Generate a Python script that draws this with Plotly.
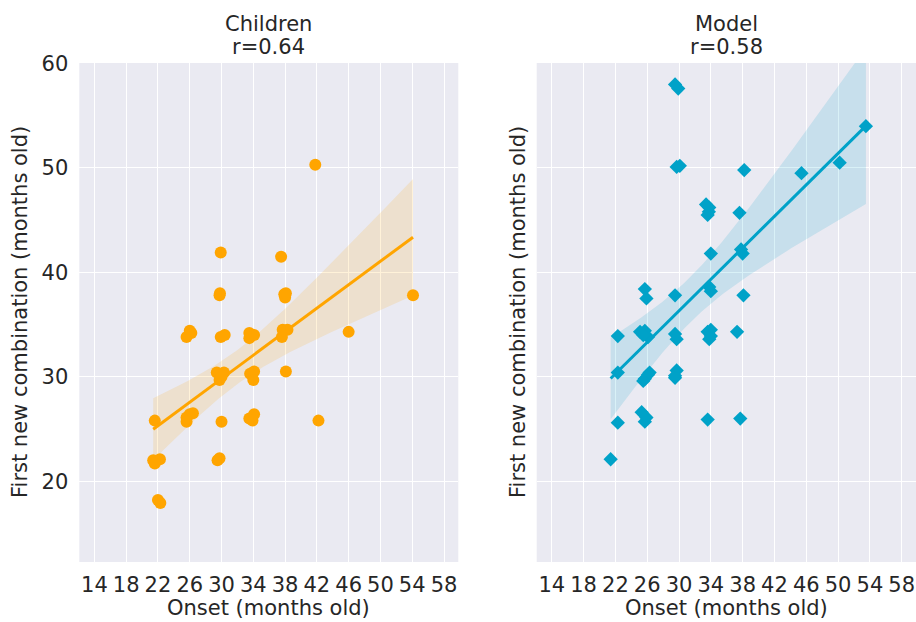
import numpy as np
import plotly.graph_objects as go

# ---------------- data ----------------
children_onset = [41.8, 29.9, 37.5, 29.75, 29.8, 38.0, 37.9, 38.1, 54.1, 26.0,
                  25.6, 26.2, 29.9, 30.4, 33.5, 33.5, 34.1, 37.7, 38.3, 37.6,
                  46.0, 29.4, 30.3, 29.75, 30.0, 33.6, 34.1, 34.0, 38.1, 21.6,
                  25.6, 26.0, 26.4, 25.6, 30.0, 33.5, 34.1, 33.9, 42.2, 21.4,
                  22.25, 21.6, 29.75, 29.5, 22.0, 22.3]
children_first = [50.3, 41.9, 41.5, 37.8, 38.0, 37.6, 37.9, 38.0, 37.8, 34.4,
                  33.8, 34.2, 33.8, 34.0, 34.2, 33.7, 34.0, 34.5, 34.5, 33.8,
                  34.3, 30.4, 30.4, 29.7, 30.0, 30.3, 30.5, 29.7, 30.5, 25.8,
                  26.1, 26.4, 26.5, 25.7, 25.7, 26.0, 26.4, 25.8, 25.8, 22.0,
                  22.1, 21.7, 22.2, 22.0, 18.2, 17.9]

model_onset = [29.5, 29.9, 29.7, 30.1, 38.2, 45.4, 50.2, 53.5, 33.4, 33.8,
               33.6, 33.75, 37.6, 34.0, 37.8, 38.0, 25.7, 25.9, 29.5, 33.8,
               34.0, 38.1, 22.3, 25.1, 25.7, 26.1, 25.5, 29.5, 29.7, 33.6,
               34.0, 33.8, 34.0, 37.3, 22.3, 25.5, 26.1, 25.7, 26.3, 29.5,
               29.7, 29.5, 22.3, 25.3, 25.9, 25.7, 33.6, 37.7, 21.4]
model_first = [58.0, 57.6, 50.1, 50.2, 49.8, 49.5, 50.5, 54.0, 46.5, 46.2,
               45.5, 45.8, 45.7, 41.8, 42.2, 41.8, 38.4, 37.5, 37.8, 38.6,
               38.2, 37.8, 33.9, 34.3, 34.4, 33.8, 34.0, 34.1, 33.6, 34.3,
               34.5, 33.6, 33.9, 34.3, 30.4, 29.6, 30.2, 29.8, 30.4, 30.1,
               30.6, 29.9, 25.6, 26.6, 26.1, 25.7, 25.9, 26.0, 22.1]

panel_titles = ["Children", "Model"]
panel_r = ["r=0.64", "r=0.58"]
x_ticks = list(range(14, 59, 4))
y_ticks = [20, 30, 40, 50, 60]
x_label = "Onset (months old)"
y_label = "First new combination (months old)"

# ---------------- styling ----------------
ORANGE = "#FFA500"
BLUE = "#00A2C8"
BG = "#EAEAF2"
TXT = "#262626"
FONT = "DejaVu Sans"
FS = 21
W, H = 916, 622


def px_x(p):
    return p / W


def px_y(p):
    return 1 - p / H


def fit_ci(x, y, n=100):
    x = np.asarray(x, float)
    y = np.asarray(y, float)
    b, a = np.polyfit(x, y, 1)
    grid = np.linspace(x.min(), x.max(), n)
    pred = a + b * grid
    resid = y - (a + b * x)
    dof = len(x) - 2
    s = np.sqrt(np.sum(resid ** 2) / dof)
    sxx = np.sum((x - x.mean()) ** 2)
    se = s * np.sqrt(1 / len(x) + (grid - x.mean()) ** 2 / sxx)
    t = 2.014
    return grid, pred, pred - t * se, pred + t * se


def rgba(hexc, a):
    h = hexc.lstrip("#")
    r, g, b = int(h[0:2], 16), int(h[2:4], 16), int(h[4:6], 16)
    return f"rgba({r},{g},{b},{a})"


fig = go.Figure()

panels = [
    (children_onset, children_first, ORANGE, "circle", 12, "x", "y"),
    (model_onset, model_first, BLUE, "diamond", 11, "x2", "y2"),
]
for xs, ys, col, sym, size, xa, ya in panels:
    g, p, lo, hi = fit_ci(xs, ys)
    fig.add_trace(go.Scatter(
        x=np.concatenate([g, g[::-1]]), y=np.concatenate([hi, lo[::-1]]),
        fill="toself", fillcolor=rgba(col, 0.15), line=dict(width=0),
        mode="lines", hoverinfo="skip", showlegend=False, xaxis=xa, yaxis=ya))
    fig.add_trace(go.Scatter(
        x=xs, y=ys, mode="markers",
        marker=dict(color=col, symbol=sym, size=size, line=dict(width=0)),
        showlegend=False, xaxis=xa, yaxis=ya))
    fig.add_trace(go.Scatter(
        x=g, y=p, mode="lines", line=dict(color=col, width=3),
        showlegend=False, xaxis=xa, yaxis=ya))

xr = [12.1, 59.8]
yr = [12.26, 60.05]
ydom = [px_y(562), px_y(63)]

axis_common = dict(
    showgrid=True, gridcolor="white", gridwidth=1.3, zeroline=False,
    showline=False, ticks="", automargin=False,
    tickfont=dict(family=FONT, size=FS, color=TXT),
)
fig.update_layout(
    width=W, height=H, margin=dict(l=0, r=0, t=0, b=0, autoexpand=False),
    paper_bgcolor="white", plot_bgcolor=BG, showlegend=False,
    font=dict(family=FONT, size=FS, color=TXT),
    xaxis=dict(domain=[px_x(79.3), px_x(458.3)], range=xr, tickvals=x_ticks,
               anchor="y", ticklabelstandoff=8, **axis_common),
    xaxis2=dict(domain=[px_x(536.7), 1.0], range=xr, tickvals=x_ticks,
                anchor="y2", ticklabelstandoff=8, **axis_common),
    yaxis=dict(domain=ydom, range=yr, tickvals=y_ticks, anchor="x",
               ticklabelstandoff=10, **axis_common),
    yaxis2=dict(domain=ydom, range=yr, tickvals=y_ticks, anchor="x2",
                showticklabels=False, **axis_common),
)

ann = []
centers = [(79.3 + 458.3) / 2, (536.7 + 916) / 2]
for c, t, r in zip(centers, panel_titles, panel_r):
    ann.append(dict(x=px_x(c), y=px_y(24), text=t, showarrow=False,
                    xref="paper", yref="paper", xanchor="center", yanchor="middle",
                    font=dict(family=FONT, size=FS, color=TXT)))
    ann.append(dict(x=px_x(c), y=px_y(47.5), text=r, showarrow=False,
                    xref="paper", yref="paper", xanchor="center", yanchor="middle",
                    font=dict(family=FONT, size=FS, color=TXT)))
    ann.append(dict(x=px_x(c), y=0, text=x_label, showarrow=False,
                    xref="paper", yref="paper", xanchor="center", yanchor="bottom",
                    font=dict(family=FONT, size=FS, color=TXT)))
for xc in [20, 518]:
    ann.append(dict(x=px_x(xc), y=px_y(312), text=y_label, showarrow=False,
                    textangle=-90, xref="paper", yref="paper",
                    xanchor="center", yanchor="middle",
                    font=dict(family=FONT, size=FS, color=TXT)))
fig.update_layout(annotations=ann)

fig.write_html("out.html")
